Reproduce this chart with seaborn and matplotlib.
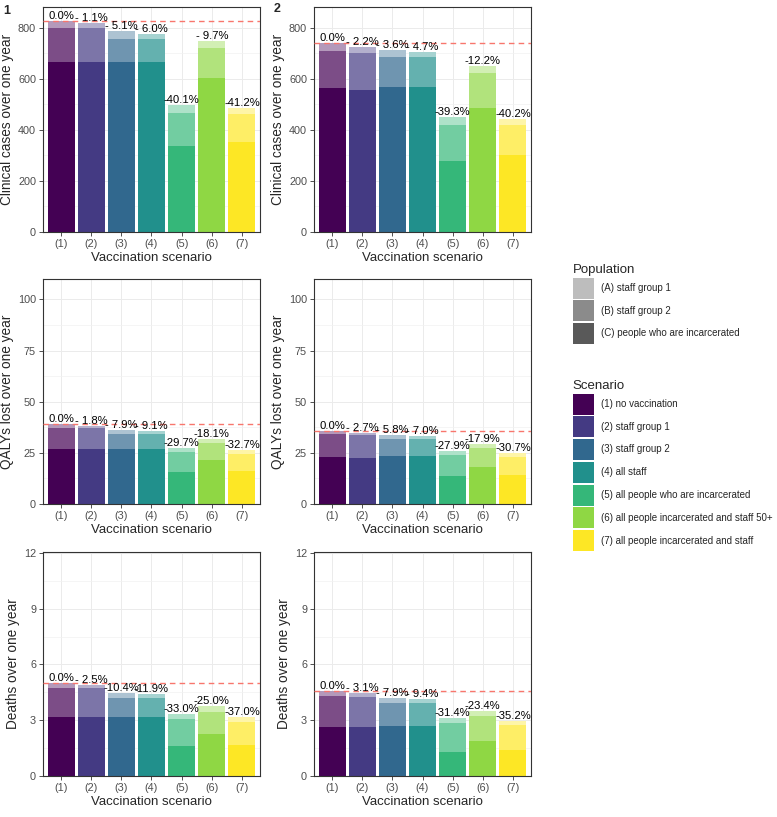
import numpy as np
import pandas as pd
import matplotlib
matplotlib.use("Agg")
import matplotlib.pyplot as plt
import matplotlib.colors as mcolors
from matplotlib.patches import Patch
from matplotlib.ticker import MultipleLocator
import seaborn as sns

# ---------------- data ----------------
scenarios = ["(1)", "(2)", "(3)", "(4)", "(5)", "(6)", "(7)"]
scenario_names = ["(1) no vaccination", "(2) staff group 1", "(3) staff group 2",
                  "(4) all staff", "(5) all people who are incarcerated",
                  "(6) all people incarcerated and staff 50+",
                  "(7) all people incarcerated and staff"]
population_names = ["(A) staff group 1", "(B) staff group 2",
                    "(C) people who are incarcerated"]

# Panel 1
cases1_C = [668, 668, 668, 668, 338, 602, 354]
cases1_B = [132, 132, 90, 90, 130, 121, 110]
cases1_A = [28, 19, 28, 20, 28, 25, 23]
cases1_lab = ["0.0%", "- 1.1%", "- 5.1%", "- 6.0%", "-40.1%", "- 9.7%", "-41.2%"]

qaly1_C = [26.8, 26.8, 26.8, 26.8, 15.5, 21.6, 16.0]
qaly1_B = [10.3, 10.3, 7.2, 7.2, 10.0, 8.4, 8.4]
qaly1_A = [1.95, 1.25, 1.95, 1.5, 1.95, 2.0, 1.9]
qaly1_lab = ["0.0%", "- 1.8%", "- 7.9%", "- 9.1%", "-29.7%", "-18.1%", "-32.7%"]

death1_C = [3.16, 3.16, 3.16, 3.16, 1.60, 2.26, 1.67]
death1_B = [1.55, 1.55, 1.03, 1.03, 1.45, 1.20, 1.22]
death1_A = [0.30, 0.17, 0.30, 0.22, 0.31, 0.30, 0.27]
death1_lab = ["0.0%", "- 2.5%", "-10.4%", "-11.9%", "-33.0%", "-25.0%", "-37.0%"]

# Panel 2
cases2_C = [565, 557, 569, 569, 280, 488, 302]
cases2_B = [146, 145, 116, 116, 141, 136, 118]
cases2_A = [29, 22, 28, 20, 28, 26, 23]
cases2_lab = ["0.0%", "- 2.2%", "- 3.6%", "- 4.7%", "-39.3%", "-12.2%", "-40.2%"]

qaly2_C = [22.8, 22.4, 23.3, 23.3, 13.5, 18.2, 14.3]
qaly2_B = [11.2, 11.1, 8.6, 8.6, 10.4, 9.4, 8.8]
qaly2_A = [1.9, 1.4, 1.9, 1.5, 2.0, 1.9, 1.8]
qaly2_lab = ["0.0%", "- 2.7%", "- 5.8%", "- 7.0%", "-27.9%", "-17.9%", "-30.7%"]

death2_C = [2.66, 2.62, 2.69, 2.69, 1.31, 1.89, 1.40]
death2_B = [1.65, 1.62, 1.26, 1.26, 1.56, 1.34, 1.33]
death2_A = [0.27, 0.20, 0.27, 0.20, 0.27, 0.28, 0.24]
death2_lab = ["0.0%", "- 3.1%", "- 7.9%", "- 9.4%", "-31.4%", "-23.4%", "-35.2%"]

viridis7 = ["#440154", "#443A83", "#31688E", "#21908C", "#35B779", "#8FD744", "#FDE725"]
alpha_A, alpha_B, alpha_C = 0.4, 0.7, 1.0

def blend(c, a):
    r = np.array(mcolors.to_rgb(c))
    return tuple(1 - a * (1 - r))

sns.set_theme(style="white")
plt.rcParams["font.family"] = ["Liberation Sans", "DejaVu Sans"]

W, H = 777, 817
fig = plt.figure(figsize=(W / 100, H / 100), dpi=100)

def add_ax(l, t, r, b):
    return fig.add_axes([l / W, 1 - b / H, (r - l) / W, (b - t) / H])

rows = [(7, 232), (279, 504), (552, 776)]
cols = [(43, 260), (314, 531)]

panels = [
    [(cases1_C, cases1_B, cases1_A, cases1_lab), (cases2_C, cases2_B, cases2_A, cases2_lab)],
    [(qaly1_C, qaly1_B, qaly1_A, qaly1_lab), (qaly2_C, qaly2_B, qaly2_A, qaly2_lab)],
    [(death1_C, death1_B, death1_A, death1_lab), (death2_C, death2_B, death2_A, death2_lab)],
]
ylabels = ["Clinical cases over one year", "QALYs lost over one year", "Deaths over one year"]
ylims = [882, 110, 12.05]
majors = [200, 25, 3]

for ri, (t, b) in enumerate(rows):
    for ci, (l, r) in enumerate(cols):
        ax = add_ax(l, t, r, b)
        C, B, A, labs = panels[ri][ci]
        C = np.array(C, float); B = np.array(B, float); A = np.array(A, float)
        tot = C + B + A
        layers = [(tot, alpha_A), (C + B, alpha_B), (C, alpha_C)]
        for vals, a in layers:
            df = pd.DataFrame({"scenario": scenarios, "value": vals})
            pal = {s: blend(c, a) for s, c in zip(scenarios, viridis7)}
            sns.barplot(data=df, x="scenario", y="value", hue="scenario",
                        palette=pal, legend=False, width=0.9, saturation=1,
                        ax=ax, zorder=2, linewidth=0)
        ax.axhline(tot[0], color="#F8766D", ls=(0, (4, 3)), lw=1.0, zorder=3)
        for i, (v, s) in enumerate(zip(tot, labs)):
            ax.text(i, v, s, ha="center", va="bottom", fontsize=8.1,
                    color="black", zorder=4)
        ax.set_xlim(-0.6, 6.6)
        ax.set_ylim(0, ylims[ri])
        ax.yaxis.set_major_locator(MultipleLocator(majors[ri]))
        ax.yaxis.set_minor_locator(MultipleLocator(majors[ri] / 2))
        ax.set_axisbelow(True)
        ax.grid(True, which="major", color="#EBEBEB", lw=0.7)
        ax.grid(True, which="minor", axis="y", color="#F2F2F2", lw=0.5)
        ax.set_facecolor("white")
        for sp in ax.spines.values():
            sp.set_color("#333333")
            sp.set_linewidth(0.8)
        ax.tick_params(axis="both", which="major", length=3, width=0.6,
                       color="#333333", labelsize=7.8, labelcolor="#4D4D4D",
                       pad=2, bottom=True, left=True)
        ax.tick_params(axis="y", which="minor", length=0)
        ax.set_xlabel("Vaccination scenario", fontsize=9.5, labelpad=2)
        ax.set_ylabel(ylabels[ri], fontsize=9.8, labelpad=3)

fig.text(3 / W, 1 - 11 / H, "1", fontsize=9, fontweight="bold", ha="left", va="center")
fig.text(274 / W, 1 - 9 / H, "2", fontsize=9, fontweight="bold", ha="left", va="center")

# legends
lfs = 7.0
leg_kw = dict(loc="upper left", frameon=False, fontsize=lfs, title_fontsize=9.5,
              handlelength=2.16, handleheight=2.95, labelspacing=0.18,
              handletextpad=0.72, alignment="left", borderpad=0.2)
grey = "#595959"
pop_handles = [Patch(facecolor=blend(grey, a), edgecolor="none")
               for a in (alpha_A, alpha_B, alpha_C)]
leg1 = fig.legend(pop_handles, population_names, title="Population",
                  bbox_to_anchor=(566 / W, 1 - 257 / H), **leg_kw)
sc_handles = [Patch(facecolor=c, edgecolor="none") for c in viridis7]
leg2 = fig.legend(sc_handles, scenario_names, title="Scenario",
                  bbox_to_anchor=(566 / W, 1 - 373 / H), **leg_kw)

fig.savefig("out.png", dpi=100, facecolor="white")
